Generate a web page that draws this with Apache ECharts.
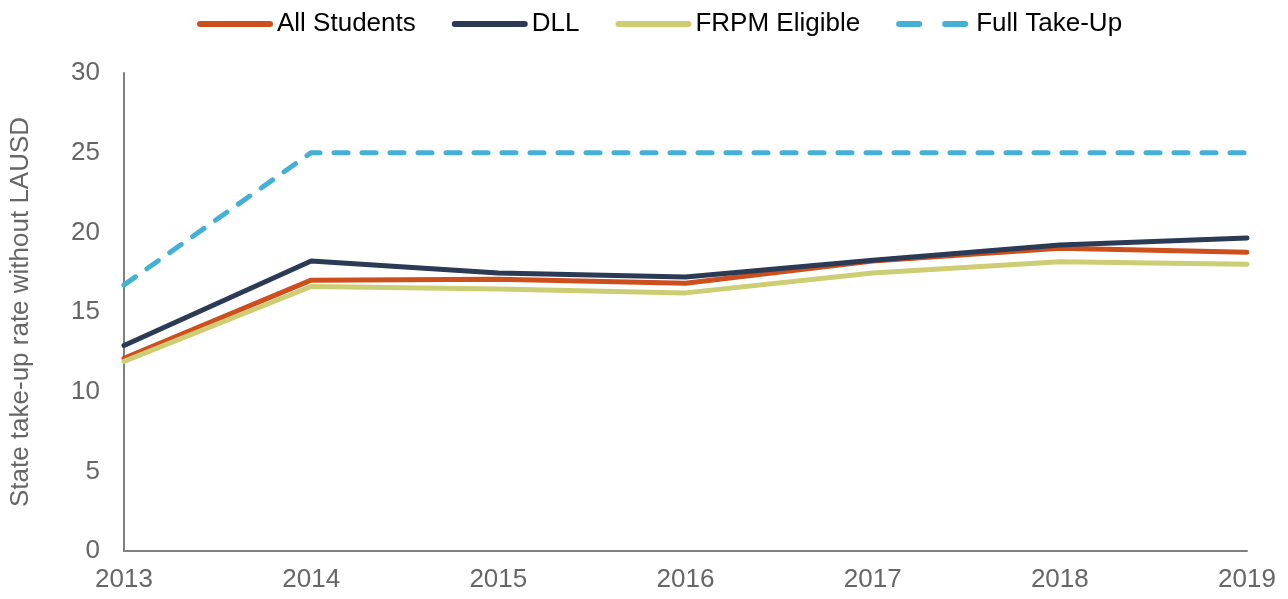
<!DOCTYPE html>
<html>
<head>
    <meta charset="utf-8">
    <title>State take-up rate</title>
    <script src="https://cdn.jsdelivr.net/npm/echarts@6/dist/echarts.min.js"></script>
    <style>
        html, body { margin: 0; padding: 0; background: #fff; }
        #chart1 { width: 1288px; height: 599px; }
    </style>
</head>
<body>
<div id="chart1"></div>
<script type="text/javascript">
    // 数据
    var years = ['2013', '2014', '2015', '2016', '2017', '2018', '2019'];
    var allStudents = [12.1, 17.0, 17.05, 16.8, 18.2, 19.0, 18.75];
    var dll = [12.9, 18.2, 17.45, 17.2, 18.25, 19.2, 19.65];
    var frpm = [11.9, 16.6, 16.45, 16.2, 17.45, 18.15, 18.0];
    var fullTakeUp = [16.7, 25, 25, 25, 25, 25, 25];

    var axisGray = '#7f7f7f';
    var labelGray = '#666666';

    function line(name, data, color, dashed) {
        return {
            name: name,
            type: 'line',
            data: data,
            symbol: 'none',
            lineStyle: {
                color: color,
                width: 5,
                type: dashed ? [14, 14] : 'solid',
                cap: 'round'
            },
            itemStyle: { color: color }
        };
    }

    var myChart1 = echarts.init(document.getElementById('chart1'));
    myChart1.setOption({
        animation: false,
        textStyle: { fontFamily: 'Liberation Sans, Arial, sans-serif' },
        legend: {
            top: 6,
            left: 192,
            itemWidth: 70,
            itemHeight: 6,
            itemGap: 36,
            itemStyle: { opacity: 0 },
            lineStyle: { width: 6 },
            textStyle: { fontSize: 26, color: '#000', padding: [0, 0, 0, 2] },
            data: [
                'All Students',
                'DLL',
                'FRPM Eligible',
                { name: 'Full Take-Up', lineStyle: { type: [20, 26], width: 6 } }
            ]
        },
        grid: { left: 124, right: 41, top: 73, bottom: 48 },
        xAxis: {
            type: 'category',
            data: years,
            boundaryGap: false,
            axisLine: { lineStyle: { color: axisGray, width: 2 } },
            axisTick: { show: false },
            axisLabel: { fontSize: 26, color: labelGray, margin: 16 }
        },
        yAxis: {
            type: 'value',
            min: 0,
            max: 30,
            interval: 5,
            name: 'State take-up rate without LAUSD',
            nameLocation: 'middle',
            nameGap: 90,
            nameTextStyle: { fontSize: 26, color: labelGray },
            axisLine: { show: true, lineStyle: { color: axisGray, width: 2 } },
            axisTick: { show: false },
            splitLine: { show: false },
            axisLabel: { fontSize: 26, color: labelGray, margin: 24 }
        },
        series: [
            line('All Students', allStudents, '#cc4f1d', false),
            line('DLL', dll, '#2b3a55', false),
            line('FRPM Eligible', frpm, '#cdcd74', false),
            line('Full Take-Up', fullTakeUp, '#45b0d5', true)
        ]
    });
</script>
</body>
</html>
